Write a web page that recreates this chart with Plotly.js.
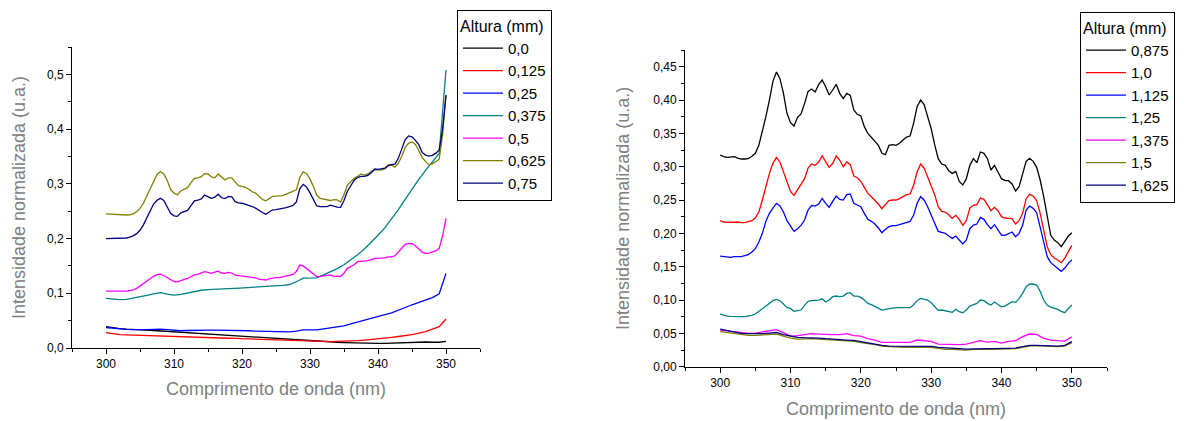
<!DOCTYPE html>
<html>
<head>
<meta charset="utf-8">
<script src="https://cdn.plot.ly/plotly-3.0.1.min.js"></script>
<style>html,body{margin:0;padding:0;background:#fff;}#chart{width:1193px;height:421px;}</style>
</head>
<body>
<div id="chart"></div>
<script>
// Wavelength grids (nm)
const wavelengthFine = [300,300.5,301,301.5,302,302.5,303,303.5,304,304.5,305,305.5,306,306.5,307,307.5,308,308.5,309,309.5,310,310.5,311,311.5,312,312.5,313,313.5,314,314.5,315,315.5,316,316.5,317,317.5,318,318.5,319,319.5,320,320.5,321,321.5,322,322.5,323,323.5,324,324.5,325,325.5,326,326.5,327,327.5,328,328.5,329,329.5,330,330.5,331,331.5,332,332.5,333,333.5,334,334.5,335,335.5,336,336.5,337,337.5,338,338.5,339,339.5,340,340.5,341,341.5,342,342.5,343,343.5,344,344.5,345,345.5,346,346.5,347,347.5,348,348.5,349,349.5,350];
const wavelengthCoarse = [300,301,302,303,304,305,306,307,308,309,310,311,312,313,314,315,316,317,318,319,320,321,322,323,324,325,326,327,328,329,330,331,332,333,334,335,336,337,338,339,340,341,342,343,344,345,346,347,348,349,350];

// Left panel: Altura 0,0 ... 0,75 mm
const left_0_0 = [0.039,0.037,0.0355,0.0345,0.0335,0.033,0.0325,0.032,0.0312,0.0305,0.029,0.0285,0.0275,0.027,0.026,0.0255,0.025,0.024,0.023,0.022,0.021,0.0205,0.0195,0.0185,0.0175,0.017,0.016,0.015,0.0145,0.0135,0.013,0.012,0.0115,0.011,0.0105,0.010,0.0095,0.009,0.009,0.0088,0.0086,0.0085,0.009,0.0097,0.0105,0.011,0.011,0.011,0.0105,0.0105,0.012];
const left_0_125 = [0.028,0.026,0.0245,0.024,0.0235,0.023,0.023,0.0228,0.0225,0.022,0.021,0.0205,0.0205,0.02,0.0195,0.019,0.0185,0.018,0.0178,0.0175,0.017,0.0165,0.016,0.0155,0.015,0.0145,0.014,0.0135,0.0135,0.013,0.0125,0.012,0.012,0.0118,0.012,0.0125,0.013,0.0135,0.0145,0.0155,0.0165,0.018,0.0195,0.021,0.0225,0.0245,0.027,0.03,0.0345,0.039,0.053];
const left_0_25 = [0.0375,0.036,0.035,0.034,0.0335,0.033,0.0335,0.034,0.0345,0.0335,0.032,0.0315,0.032,0.0325,0.0325,0.0325,0.0325,0.0325,0.0325,0.032,0.032,0.0315,0.031,0.0305,0.030,0.030,0.0295,0.0295,0.031,0.033,0.033,0.033,0.035,0.0365,0.038,0.0405,0.044,0.0475,0.051,0.055,0.058,0.061,0.064,0.0695,0.074,0.079,0.0835,0.0875,0.092,0.099,0.1364];
const left_0_375 = [0.0905,0.089,0.0885,0.089,0.091,0.0935,0.096,0.099,0.101,0.0985,0.0965,0.098,0.1005,0.103,0.1055,0.1065,0.1075,0.108,0.1085,0.109,0.1095,0.1105,0.111,0.112,0.113,0.1135,0.1145,0.116,0.121,0.1275,0.1275,0.128,0.1335,0.139,0.145,0.152,0.161,0.1705,0.181,0.193,0.206,0.2195,0.236,0.253,0.2715,0.2905,0.308,0.3245,0.3395,0.3555,0.508];
const left_0_5 = [0.104,0.104,0.1035,0.1035,0.1035,0.1035,0.104,0.105,0.106,0.109,0.1135,0.118,0.1225,0.127,0.131,0.134,0.135,0.1325,0.1285,0.124,0.1215,0.121,0.1235,0.1255,0.127,0.131,0.1335,0.1345,0.1365,0.1395,0.138,0.1365,0.1385,0.1405,0.137,0.1365,0.138,0.137,0.133,0.1322,0.1322,0.1315,0.1305,0.129,0.128,0.126,0.1245,0.1242,0.1265,0.128,0.1285,0.1285,0.13,0.1315,0.133,0.1345,0.14,0.1515,0.15,0.1455,0.1395,0.1355,0.1305,0.131,0.132,0.1325,0.1335,0.131,0.1315,0.1305,0.1365,0.1455,0.149,0.152,0.1577,0.1585,0.158,0.1595,0.1615,0.1635,0.1638,0.1638,0.1645,0.1665,0.1665,0.1685,0.175,0.1825,0.1895,0.1912,0.1905,0.187,0.181,0.175,0.173,0.1735,0.1755,0.1775,0.182,0.205,0.2369];
const left_0_625 = [0.245,0.2445,0.244,0.2435,0.2435,0.243,0.243,0.2435,0.245,0.249,0.255,0.2645,0.277,0.292,0.305,0.317,0.3225,0.318,0.306,0.29,0.283,0.28,0.287,0.29,0.293,0.302,0.31,0.311,0.313,0.3185,0.318,0.3125,0.311,0.318,0.313,0.307,0.311,0.311,0.303,0.2965,0.2955,0.2935,0.29,0.2855,0.283,0.278,0.2715,0.269,0.2725,0.277,0.2775,0.278,0.2785,0.281,0.2835,0.2865,0.289,0.3115,0.322,0.3185,0.309,0.295,0.279,0.2735,0.272,0.2705,0.2695,0.271,0.2705,0.2668,0.28,0.2975,0.3035,0.31,0.3135,0.318,0.316,0.318,0.3222,0.326,0.3255,0.325,0.327,0.333,0.334,0.3305,0.338,0.3505,0.3665,0.374,0.3765,0.372,0.361,0.348,0.3405,0.335,0.3365,0.340,0.345,0.39,0.462];
const left_0_75 = [0.2,0.2,0.2,0.2,0.2005,0.201,0.201,0.2025,0.205,0.209,0.215,0.225,0.238,0.252,0.263,0.27,0.2735,0.2695,0.258,0.246,0.2415,0.2405,0.247,0.2495,0.2515,0.26,0.269,0.27,0.2725,0.2795,0.276,0.2735,0.2755,0.281,0.2745,0.273,0.277,0.276,0.2675,0.265,0.2645,0.2625,0.2615,0.2585,0.2555,0.251,0.2475,0.2445,0.249,0.2525,0.253,0.254,0.2555,0.2565,0.2585,0.2605,0.267,0.2915,0.299,0.294,0.2835,0.2705,0.2595,0.2585,0.258,0.2585,0.261,0.259,0.2575,0.257,0.2695,0.2865,0.2965,0.3065,0.3115,0.3135,0.3135,0.3155,0.32,0.327,0.3265,0.327,0.3285,0.334,0.3355,0.336,0.347,0.3655,0.381,0.3875,0.386,0.3795,0.3715,0.357,0.3525,0.3505,0.352,0.356,0.362,0.40,0.462];

// Right panel: Altura 0,875 ... 1,625 mm
const right_0_875 = [0.3175,0.315,0.314,0.3145,0.315,0.313,0.3115,0.3115,0.312,0.3155,0.32,0.332,0.352,0.375,0.40,0.428,0.442,0.432,0.41,0.38,0.366,0.361,0.374,0.379,0.395,0.413,0.4165,0.412,0.423,0.43,0.42,0.4075,0.415,0.4235,0.41,0.402,0.41,0.407,0.385,0.3785,0.376,0.36,0.35,0.344,0.339,0.332,0.32,0.318,0.332,0.333,0.332,0.335,0.34,0.3445,0.346,0.365,0.39,0.4,0.393,0.376,0.357,0.333,0.312,0.304,0.302,0.294,0.29,0.293,0.278,0.2725,0.282,0.302,0.312,0.306,0.322,0.32,0.312,0.295,0.302,0.292,0.282,0.279,0.279,0.274,0.2635,0.27,0.288,0.308,0.3125,0.308,0.299,0.28,0.255,0.225,0.197,0.19,0.186,0.18,0.188,0.196,0.201];
const right_1_0 = [0.219,0.217,0.2165,0.217,0.2175,0.217,0.216,0.216,0.2175,0.219,0.223,0.232,0.25,0.27,0.29,0.305,0.314,0.307,0.292,0.275,0.263,0.257,0.265,0.272,0.282,0.298,0.304,0.302,0.307,0.316,0.308,0.299,0.305,0.316,0.31,0.3,0.307,0.303,0.286,0.2835,0.278,0.268,0.26,0.255,0.25,0.244,0.237,0.243,0.249,0.25,0.25,0.252,0.255,0.258,0.259,0.272,0.292,0.304,0.298,0.285,0.27,0.258,0.24,0.233,0.232,0.228,0.2225,0.227,0.221,0.212,0.219,0.238,0.242,0.243,0.253,0.251,0.243,0.234,0.239,0.234,0.225,0.223,0.2225,0.222,0.214,0.219,0.23,0.252,0.2585,0.256,0.249,0.23,0.205,0.18,0.168,0.163,0.16,0.156,0.163,0.172,0.182];
const right_1_125 = [0.166,0.165,0.164,0.164,0.165,0.165,0.165,0.1665,0.168,0.172,0.177,0.187,0.2,0.218,0.23,0.238,0.245,0.241,0.232,0.219,0.211,0.203,0.207,0.212,0.22,0.235,0.242,0.241,0.244,0.2525,0.245,0.239,0.248,0.256,0.251,0.25,0.258,0.259,0.245,0.2425,0.24,0.23,0.221,0.218,0.214,0.208,0.201,0.206,0.21,0.2115,0.2115,0.213,0.215,0.2165,0.218,0.227,0.245,0.255,0.25,0.24,0.226,0.215,0.203,0.201,0.2,0.196,0.1925,0.196,0.19,0.184,0.19,0.207,0.2125,0.214,0.224,0.221,0.213,0.207,0.213,0.206,0.1975,0.197,0.2,0.202,0.195,0.2,0.212,0.235,0.241,0.2375,0.231,0.21,0.185,0.165,0.156,0.152,0.1475,0.143,0.148,0.155,0.16];
const right_1_25 = [0.079,0.077,0.076,0.0755,0.075,0.075,0.075,0.075,0.0755,0.077,0.079,0.083,0.087,0.092,0.096,0.099,0.101,0.099,0.094,0.089,0.087,0.083,0.084,0.085,0.092,0.098,0.099,0.099,0.100,0.102,0.097,0.1,0.105,0.106,0.105,0.106,0.11,0.111,0.106,0.106,0.104,0.1,0.095,0.093,0.09,0.087,0.085,0.086,0.0875,0.088,0.0885,0.0885,0.0885,0.0885,0.0885,0.093,0.099,0.1025,0.1015,0.1,0.096,0.09,0.0845,0.085,0.084,0.0825,0.0815,0.086,0.0825,0.081,0.085,0.091,0.0925,0.095,0.1,0.099,0.095,0.0925,0.097,0.094,0.09,0.091,0.094,0.0975,0.0965,0.102,0.11,0.12,0.124,0.124,0.1225,0.113,0.1,0.092,0.0895,0.088,0.086,0.083,0.081,0.087,0.0925];
const right_1_375 = [0.055,0.0535,0.052,0.0505,0.05,0.0505,0.052,0.054,0.0555,0.051,0.046,0.0465,0.048,0.0495,0.049,0.048,0.048,0.048,0.0495,0.0465,0.046,0.042,0.04,0.0365,0.0365,0.0365,0.0365,0.0365,0.04,0.0395,0.038,0.034,0.0335,0.0335,0.033,0.034,0.037,0.039,0.037,0.038,0.0355,0.038,0.039,0.045,0.049,0.0485,0.0425,0.04,0.039,0.0385,0.045];
const right_1_5 = [0.0525,0.051,0.049,0.0475,0.047,0.047,0.0475,0.0485,0.049,0.046,0.043,0.0415,0.042,0.042,0.0415,0.041,0.040,0.039,0.039,0.038,0.036,0.035,0.033,0.031,0.03,0.0295,0.029,0.029,0.0295,0.0295,0.029,0.027,0.026,0.026,0.025,0.025,0.026,0.0265,0.026,0.026,0.026,0.0265,0.027,0.029,0.031,0.0315,0.031,0.03,0.03,0.031,0.036];
const right_1_625 = [0.0565,0.054,0.052,0.05,0.0495,0.049,0.0495,0.0505,0.0515,0.048,0.0455,0.044,0.0435,0.0435,0.043,0.042,0.041,0.0405,0.040,0.0395,0.0375,0.036,0.034,0.032,0.031,0.031,0.0305,0.0305,0.031,0.031,0.0305,0.029,0.028,0.028,0.027,0.0265,0.027,0.0275,0.027,0.027,0.027,0.0275,0.028,0.030,0.032,0.032,0.0315,0.031,0.031,0.032,0.0375];

const leftLabels = ['0,0','0,125','0,25','0,375','0,5','0,625','0,75'];
const rightLabels = ['0,875','1,0','1,125','1,25','1,375','1,5','1,625'];
const colors = ['#000000','#ff0000','#0000ff','#008080','#ff00ff','#808000','#000080'];

const leftX = [wavelengthCoarse,wavelengthCoarse,wavelengthCoarse,wavelengthCoarse,wavelengthFine,wavelengthFine,wavelengthFine];
const leftY = [left_0_0,left_0_125,left_0_25,left_0_375,left_0_5,left_0_625,left_0_75];
const rightX = [wavelengthFine,wavelengthFine,wavelengthFine,wavelengthFine,wavelengthCoarse,wavelengthCoarse,wavelengthCoarse];
const rightY = [right_0_875,right_1_0,right_1_125,right_1_25,right_1_375,right_1_5,right_1_625];

const traces = [];
for (let i = 0; i < 7; i++) {
  traces.push({x:leftX[i], y:leftY[i], name:leftLabels[i], type:'scatter', mode:'lines',
    line:{color:colors[i], width:1.3}, xaxis:'x', yaxis:'y', legend:'legend'});
}
for (let i = 0; i < 7; i++) {
  traces.push({x:rightX[i], y:rightY[i], name:rightLabels[i], type:'scatter', mode:'lines',
    line:{color:colors[i], width:1.3}, xaxis:'x2', yaxis:'y2', legend:'legend2'});
}

const W = 1193, H = 421;
const FONT = 'Liberation Sans, Arial, sans-serif';
const titleFont = {family:FONT, size:18, color:'#808080'};
const tickFont = {family:FONT, size:12, color:'#000000'};
function xax(domain, standoff) {
  return {domain:domain, range:[295,355], tick0:300, dtick:10, ticks:'outside', ticklen:5, tickwidth:1,
    tickcolor:'#000', showline:true, linecolor:'#000', linewidth:1, showgrid:false, zeroline:false,
    tickfont:tickFont, minor:{dtick:5, tick0:300, ticks:'outside', ticklen:3, tickcolor:'#000', showgrid:false},
    title:{text:'Comprimento de onda (nm)', font:titleFont, standoff:standoff}};
}
function yax(domain, range, dtick, fmt, mdt, anchor, standoff) {
  return {domain:domain, range:range, tick0:0, dtick:dtick, tickformat:fmt, ticks:'outside', ticklen:5, tickwidth:1,
    tickcolor:'#000', showline:true, linecolor:'#000', linewidth:1, showgrid:false, zeroline:false, anchor:anchor,
    tickfont:tickFont, minor:{dtick:mdt, ticks:'outside', ticklen:3, tickcolor:'#000', showgrid:false},
    title:{text:'Intensidade normalizada (u.a.)', font:titleFont, standoff:standoff}};
}
const legendBase = {bgcolor:'#ffffff', bordercolor:'#000000', borderwidth:1, xanchor:'left', yanchor:'top',
  font:{family:FONT, size:15, color:'#000'}, title:{text:'Altura (mm)', font:{family:FONT, size:16, color:'#000'}},
  tracegroupgap:0, itemwidth:40};

const layout = {
  width:W, height:H, margin:{l:0, r:0, t:0, b:0}, paper_bgcolor:'#fff', plot_bgcolor:'#fff',
  separators:',.', showlegend:true,
  xaxis: Object.assign(xax([72/W, 480/W], 11), {anchor:'y'}),
  yaxis: yax([1-348/H, 1-47/H], [0,0.55], 0.1, '.1f', 0.05, 'x', 16),
  xaxis2: Object.assign(xax([685/W, 1107/W], 13), {anchor:'y2'}),
  yaxis2: yax([1-366.7/H, 1-50/H], [0,0.475], 0.05, '.2f', 0.025, 'x2', 18),
  legend: Object.assign({}, legendBase, {x:457/W, y:1-10/H}),
  legend2: Object.assign({}, legendBase, {x:1080/W, y:1-12/H})
};

Plotly.newPlot('chart', traces, layout, {displayModeBar:false, staticPlot:true});
</script>
</body>
</html>
